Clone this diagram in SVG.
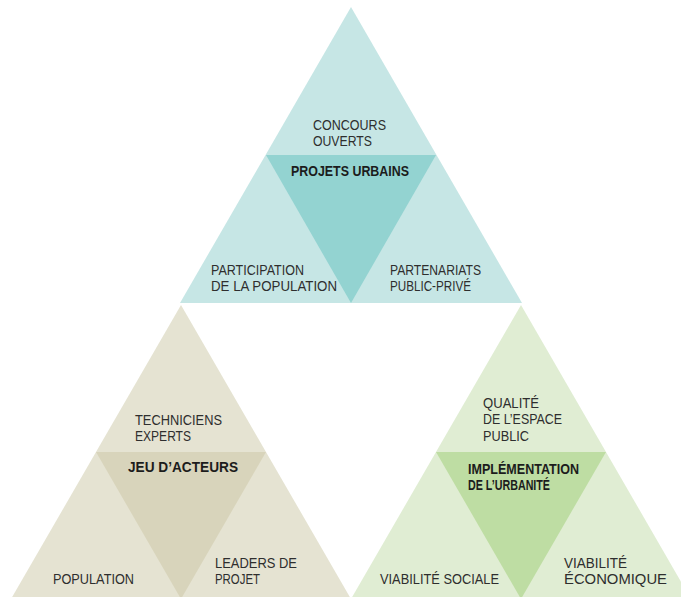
<svg xmlns="http://www.w3.org/2000/svg" width="681" height="597" viewBox="0 0 681 597">
  <style>
    text { font-family: "Liberation Sans", Arial, sans-serif; font-size: 15px; fill: #2e2e2e; }
    .key { font-weight: bold; fill: #1c1c1c; font-size: 15px; }
    .teal-out { fill: #c6e6e5; }
    .teal-in { fill: #93d3d1; }
    .sand-out { fill: #e5e3d2; }
    .sand-in { fill: #d8d4bb; }
    .green-out { fill: #e0edd3; }
    .green-in { fill: #bedda3; }
  </style>
  <rect width="681" height="597" fill="#ffffff"/>

  <!-- Projets urbains -->
  <g id="projets-urbains">
    <polygon class="teal-out" points="351,7 522,303 180,303"/>
    <polygon class="teal-in" points="266,155 436,155 351,303"/>
    <text x="313" y="130" textLength="73" lengthAdjust="spacingAndGlyphs">CONCOURS</text>
    <text x="313" y="146" textLength="59" lengthAdjust="spacingAndGlyphs">OUVERTS</text>
    <text class="key" x="291" y="176" textLength="118" lengthAdjust="spacingAndGlyphs">PROJETS URBAINS</text>
    <text x="211" y="275" textLength="93" lengthAdjust="spacingAndGlyphs">PARTICIPATION</text>
    <text x="211" y="291" textLength="126" lengthAdjust="spacingAndGlyphs">DE LA POPULATION</text>
    <text x="390" y="275" textLength="91" lengthAdjust="spacingAndGlyphs">PARTENARIATS</text>
    <text x="390" y="291" textLength="81" lengthAdjust="spacingAndGlyphs">PUBLIC-PRIVÉ</text>
  </g>

  <!-- Jeu d'acteurs -->
  <g id="jeu-acteurs">
    <polygon class="sand-out" points="181,305 351,599 11,599"/>
    <polygon class="sand-in" points="96,452 266,452 181,599"/>
    <text x="135" y="425" textLength="87" lengthAdjust="spacingAndGlyphs">TECHNICIENS</text>
    <text x="135" y="441" textLength="56" lengthAdjust="spacingAndGlyphs">EXPERTS</text>
    <text class="key" x="128" y="472" textLength="110" lengthAdjust="spacingAndGlyphs">JEU D’ACTEURS</text>
    <text x="53" y="584" textLength="81" lengthAdjust="spacingAndGlyphs">POPULATION</text>
    <text x="215" y="568" textLength="82" lengthAdjust="spacingAndGlyphs">LEADERS DE</text>
    <text x="215" y="584" textLength="45" lengthAdjust="spacingAndGlyphs">PROJET</text>
  </g>

  <!-- Implémentation de l'urbanité -->
  <g id="implementation-urbanite">
    <polygon class="green-out" points="521,305 691,599 351,599"/>
    <polygon class="green-in" points="436,452 606,452 521,599"/>
    <text x="483" y="408" textLength="56" lengthAdjust="spacingAndGlyphs">QUALITÉ</text>
    <text x="483" y="424" textLength="79" lengthAdjust="spacingAndGlyphs">DE L’ESPACE</text>
    <text x="483" y="441" textLength="46" lengthAdjust="spacingAndGlyphs">PUBLIC</text>
    <text class="key" x="468" y="474" textLength="111" lengthAdjust="spacingAndGlyphs">IMPLÉMENTATION</text>
    <text class="key" x="468" y="490" textLength="82" lengthAdjust="spacingAndGlyphs">DE L’URBANITÉ</text>
    <text x="380" y="584" textLength="119" lengthAdjust="spacingAndGlyphs">VIABILITÉ SOCIALE</text>
    <text x="564" y="568" textLength="63" lengthAdjust="spacingAndGlyphs">VIABILITÉ</text>
    <text x="564" y="584" textLength="103" lengthAdjust="spacingAndGlyphs">ÉCONOMIQUE</text>
  </g>
</svg>
